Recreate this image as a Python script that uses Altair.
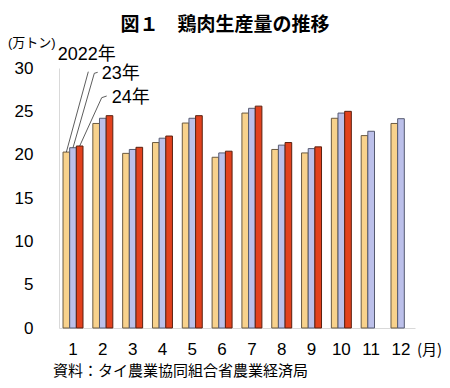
import altair as alt
import pandas as pd

months = [str(m) for m in range(1, 13)]
series = ["2022", "2023", "2024"]
v2022 = [20.3, 23.6, 20.15, 21.4, 23.65, 19.7, 24.8, 20.6, 20.2, 24.2, 22.2, 23.6]
v2023 = [20.8, 24.2, 20.6, 21.9, 24.2, 20.2, 25.35, 21.1, 20.7, 24.8, 22.7, 24.15]
v2024 = [21.0, 24.5, 20.85, 22.15, 24.5, 20.4, 25.6, 21.4, 20.9, 25.0, None, None]
y_ticks = [0, 5, 10, 15, 20, 25, 30]
series_labels = ["2022年", "23年", "24年"]

rows = []
for s, vals in zip(series, [v2022, v2023, v2024]):
    for m, v in zip(months, vals):
        if v is not None:
            rows.append({"month": m, "series": s, "value": v})
df = pd.DataFrame(rows)

FONT = 'Arial, "Liberation Sans", "Noto Sans CJK JP", sans-serif'
JP = '"Noto Sans CJK JP", sans-serif'

x_scale = alt.Scale(domain=months, paddingInner=0.33, paddingOuter=0.135)
xo_scale = alt.Scale(domain=series, paddingInner=0, paddingOuter=0)
y_scale = alt.Scale(domain=[0, 30], nice=False)

x_enc = alt.X("month:O", sort=months, scale=x_scale,
              axis=alt.Axis(title=None, labelAngle=0, ticks=False, domainColor="#d9d9d9",
                            labelFontSize=17, labelFont=FONT, labelColor="#000",
                            labelPadding=13))
y_enc = alt.Y("value:Q", scale=y_scale,
              axis=alt.Axis(title=None, values=y_ticks, grid=False, ticks=False,
                            domainColor="#d9d9d9", labelFontSize=17, labelFont=FONT,
                            labelColor="#000", labelPadding=26))

bars = alt.Chart(df).mark_bar(strokeWidth=1).encode(
    x=x_enc,
    xOffset=alt.XOffset("series:N", scale=xo_scale),
    y=y_enc,
    fill=alt.Fill("series:N", scale=alt.Scale(domain=series, range=["#f8d28c", "#bcc0ea", "#e2411d"]), legend=None),
    stroke=alt.Stroke("series:N", scale=alt.Scale(domain=series, range=["#6b5a40", "#555a70", "#5a2010"]), legend=None),
)

layers = [bars]

# leader lines from January bars to the series labels (end points in pixels)
lead_ends = {"2022": (29.3, 3.7), "2023": (35.3, 5.3), "2024": (42.7, 29.7)}
for s in series:
    sub = df[(df["month"] == "1") & (df["series"] == s)]
    ex, ey = lead_ends[s]
    layers.append(
        alt.Chart(sub).mark_rule(color="#333", strokeWidth=0.8).encode(
            x=alt.X("month:O", scale=x_scale),
            xOffset=alt.XOffset("series:N", scale=xo_scale),
            y=alt.Y("value:Q", scale=y_scale),
            x2=alt.value(ex), y2=alt.value(ey),
        )
    )

one = alt.Data(values=[{"k": 1}])
# small hooks at the upper ends of leaders
for (x1, y1, x2, y2) in [(35.3, 5.3, 38.7, 4.3), (42.7, 29.7, 47.7, 28.0)]:
    layers.append(
        alt.Chart(one).mark_rule(color="#333", strokeWidth=0.8).encode(
            x=alt.value(x1), y=alt.value(y1), x2=alt.value(x2), y2=alt.value(y2)
        )
    )


def txt(t, x, y, size, align="left", weight="normal", font=FONT):
    return alt.Chart(one).mark_text(
        text=t, align=align, baseline="middle", fontSize=size, fontWeight=weight,
        font=font, color="#000"
    ).encode(x=alt.value(x), y=alt.value(y))


layers += [
    txt("図１　鶏肉生産量の推移", 166, -43, 19, align="center", weight="bold", font=JP),
    txt("(万トン)", -51, -25, 13),
    txt(series_labels[0], -1.3, -13, 18),
    txt(series_labels[1], 42.7, 5.5, 18),
    txt(series_labels[2], 52.7, 29.5, 18),
    txt("(月)", 358, 282, 15, font=JP),
    txt("資料：タイ農業協同組合省農業経済局", -6, 303, 15, font=JP),
]

chart = alt.layer(*layers).properties(
    width=356, height=260,
    autosize=alt.AutoSizeParams(type="none"),
    padding={"left": 51, "top": 60, "right": 27, "bottom": 52},
).configure_view(stroke=None)

chart.save("out.html", embed_options={"renderer": "svg", "actions": False})
